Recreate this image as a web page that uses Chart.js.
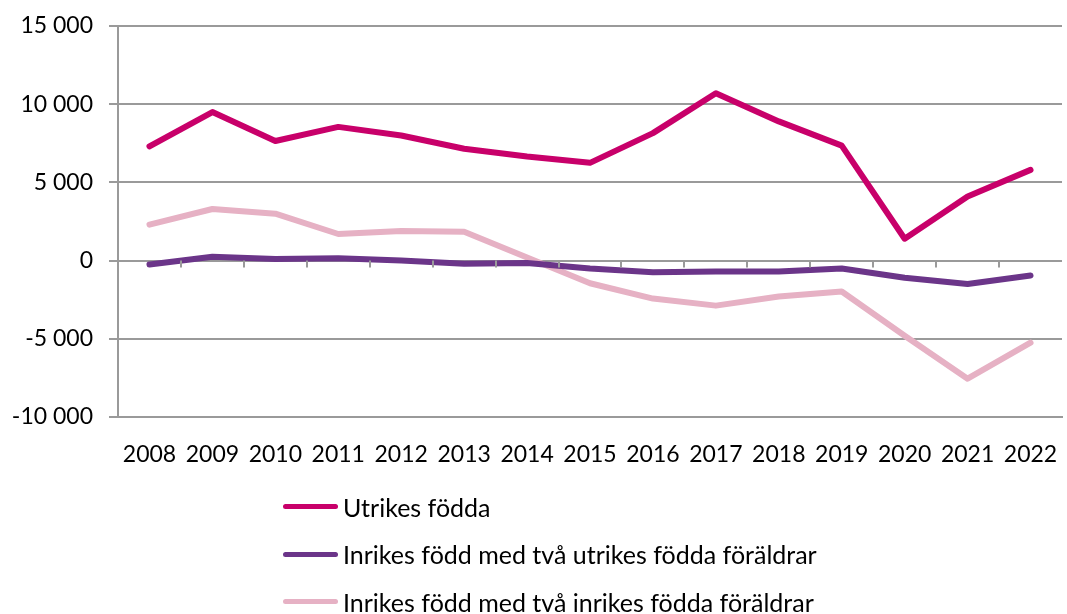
<!DOCTYPE html>
<html>
<head>
<meta charset="utf-8">
<script src="https://cdn.jsdelivr.net/npm/chart.js@4"></script>
<style>
  body { margin: 0; background: #fff; }
  .wrap { position: relative; width: 1067px; height: 614px; }
  #legend { position: absolute; left: 283px; top: 483px; font-family: Lato, sans-serif; font-size: 25px; color: #000; }
  #legend div { height: 47.5px; display: flex; align-items: center; }
  #legend span.line { display: inline-block; width: 55px; height: 5px; border-radius: 3px; margin-right: 5px; }
</style>
</head>
<body>
<div class="wrap">
  <canvas id="chart" width="1067" height="614"></canvas>
  <div id="legend"></div>
</div>
<script>
const years = ["2008", "2009", "2010", "2011", "2012", "2013", "2014", "2015", "2016", "2017", "2018", "2019", "2020", "2021", "2022"];
const utrikesFodda = [7300, 9500, 7650, 8550, 8000, 7150, 6650, 6250, 8150, 10700, 8900, 7350, 1400, 4100, 5800];
const inrikesUtrikesForaldrar = [-250, 250, 100, 150, 0, -200, -150, -500, -750, -700, -700, -500, -1100, -1500, -950];
const inrikesInrikesForaldrar = [2300, 3300, 3000, 1700, 1900, 1850, 200, -1450, -2430, -2880, -2300, -1980, -4800, -7550, -5250];

const gridColor = "#9a9a9a";
const font = { family: "Lato, sans-serif", size: 23 };

// small tick marks along the zero line, between categories
const zeroTicks = {
  id: "zeroTicks",
  afterDatasetsDraw(chart) {
    const ctx = chart.ctx, x = chart.scales.x, y = chart.scales.y;
    const y0 = y.getPixelForValue(0);
    ctx.save();
    ctx.strokeStyle = gridColor;
    ctx.lineWidth = 2;
    ctx.beginPath();
    for (let i = 1; i < years.length; i++) {
      const px = Math.round((x.getPixelForValue(i - 1) + x.getPixelForValue(i)) / 2);
      ctx.moveTo(px, y0);
      ctx.lineTo(px, y0 + 7);
    }
    ctx.stroke();
    ctx.restore();
  }
};

const chart = new Chart(document.getElementById("chart"), {
  type: "line",
  data: {
    labels: years,
    datasets: [
      { label: "Utrikes födda", data: utrikesFodda, borderColor: "#c8006a" },
      { label: "Inrikes född med två utrikes födda föräldrar", data: inrikesUtrikesForaldrar, borderColor: "#6b3589" },
      { label: "Inrikes född med två inrikes födda föräldrar", data: inrikesInrikesForaldrar, borderColor: "#e6b1c4" }
    ]
  },
  options: {
    responsive: false,
    animation: false,
    layout: { padding: { top: 26, right: 5, bottom: 117, left: 0 } },
    elements: {
      line: { borderWidth: 6, tension: 0, borderJoinStyle: "round", borderCapStyle: "round" },
      point: { radius: 0 }
    },
    plugins: { legend: { display: false }, tooltip: { enabled: false } },
    scales: {
      x: {
        offset: true,
        grid: { display: false },
        border: { display: true, color: gridColor, width: 2 },
        ticks: { color: "#000", font: font, padding: 16, maxRotation: 0 },
        afterFit(scale) {
          scale.height = 80;
          scale.paddingLeft = 0;
          scale.paddingRight = 0;
        }
      },
      y: {
        min: -10000,
        max: 15000,
        grid: { color: gridColor, lineWidth: 2, drawTicks: true, tickLength: 9 },
        border: { display: true, color: gridColor, width: 2 },
        ticks: {
          stepSize: 5000,
          color: "#000",
          font: font,
          padding: 16,
          callback: v => (v < 0 ? "-" : "") + Math.abs(v).toString().replace(/\B(?=(\d{3})+(?!\d))/g, " ")
        },
        afterFit(scale) {
          scale.width = 118;
          scale.paddingTop = 0;
          scale.paddingBottom = 0;
        }
      }
    }
  },
  plugins: [zeroTicks]
});

const legend = document.getElementById("legend");
chart.data.datasets.forEach(ds => {
  const row = document.createElement("div");
  row.innerHTML = `<span class="line" style="background:${ds.borderColor}"></span>${ds.label}`;
  legend.appendChild(row);
});
</script>
</body>
</html>
